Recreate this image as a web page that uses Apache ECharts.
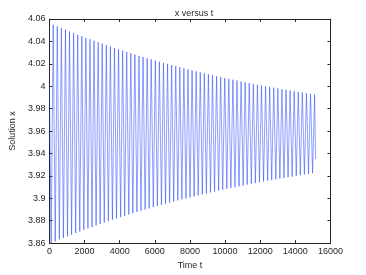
<!DOCTYPE html>
<html>
<head>
<meta charset="utf-8">
<script src="https://cdn.jsdelivr.net/npm/echarts@6/dist/echarts.min.js"></script>
<style>html,body{margin:0;padding:0;background:#fff}#c{width:366px;height:275px}</style>
</head>
<body>
<div id="c"></div>
<script>
// Turning points of the oscillation
var startPoint = [0, 4.00];
var endPoint = [15150, 3.935];
var troughTimes = [99,332,564,797,1029,1262,1494,1727,1959,2192,2424,2657,2889,3122,3354,3587,3819,4052,4284,4517,4749,4982,5214,5447,5679,5912,6144,6377,6609,6842,7074,7307,7539,7772,8004,8237,8469,8702,8934,9167,9399,9632,9864,10097,10329,10562,10794,11027,11259,11492,11724,11957,12189,12422,12654,12887,13119,13352,13584,13817,14049,14282,14514,14747,14979];
var troughValues = [3.8601,3.8616,3.8632,3.8646,3.8661,3.8676,3.8690,3.8704,3.8718,3.8731,3.8744,3.8758,3.8770,3.8783,3.8796,3.8808,3.8820,3.8832,3.8844,3.8855,3.8867,3.8878,3.8889,3.8900,3.8910,3.8921,3.8931,3.8941,3.8951,3.8961,3.8971,3.8981,3.8990,3.8999,3.9008,3.9017,3.9026,3.9035,3.9043,3.9052,3.9060,3.9068,3.9076,3.9084,3.9092,3.9099,3.9107,3.9114,3.9122,3.9129,3.9136,3.9143,3.9150,3.9156,3.9163,3.9169,3.9176,3.9182,3.9188,3.9194,3.9200,3.9206,3.9212,3.9218,3.9224];
var peakTimes = [215,448,680,913,1145,1378,1610,1843,2075,2308,2540,2773,3005,3238,3470,3703,3935,4168,4400,4633,4865,5098,5330,5563,5795,6028,6260,6493,6725,6958,7190,7423,7655,7888,8120,8353,8585,8818,9050,9283,9515,9748,9980,10213,10445,10678,10910,11143,11375,11608,11840,12073,12305,12538,12770,13003,13235,13468,13700,13933,14165,14398,14630,14863,15095];
var peakValues = [4.0549,4.0534,4.0518,4.0504,4.0489,4.0474,4.0460,4.0446,4.0432,4.0419,4.0406,4.0392,4.0380,4.0367,4.0354,4.0342,4.0330,4.0318,4.0306,4.0295,4.0283,4.0272,4.0261,4.0250,4.0240,4.0229,4.0219,4.0209,4.0199,4.0189,4.0179,4.0169,4.0160,4.0151,4.0142,4.0133,4.0124,4.0115,4.0107,4.0098,4.0090,4.0082,4.0074,4.0066,4.0058,4.0051,4.0043,4.0036,4.0028,4.0021,4.0014,4.0007,4.0000,3.9994,3.9987,3.9981,3.9974,3.9968,3.9962,3.9956,3.9950,3.9944,3.9938,3.9932,3.9926];
var xTicks = {min: 0, max: 16000, interval: 2000};
var yTicks = {min: 3.86, max: 4.06, interval: 0.02};

var data = [startPoint];
for (var i = 0; i < peakTimes.length; i++) {
  data.push([troughTimes[i], troughValues[i]]);
  data.push([peakTimes[i], peakValues[i]]);
}
data.push(endPoint);

var FONT = 'Liberation Sans';
var TXT = '#262626';
var AX = '#262626';
function yFmt(v){ return String(parseFloat(v.toFixed(2))); }
function xFmt(v){ return String(Math.round(v)); }
function baseAxis(extra){
  var a = {
    type: 'value',
    axisLine: {show: true, onZero: false, lineStyle: {color: AX, width: 1}},
    axisTick: {show: true, inside: true, length: 3, lineStyle: {color: AX, width: 1}},
    splitLine: {show: false},
    nameTextStyle: {color: TXT, fontFamily: FONT, fontSize: 9}
  };
  for (var k in extra) a[k] = extra[k];
  return a;
}

var chart = echarts.init(document.getElementById('c'), null, {renderer: 'canvas'});
chart.setOption({
  animation: false,
  backgroundColor: '#fff',
  title: {
    text: 'x versus t', left: 189, top: 4, textAlign: 'center',
    textStyle: {color: TXT, fontFamily: FONT, fontSize: 9, fontWeight: 'normal'}
  },
  grid: {left: 48, top: 19, width: 282.5, height: 224.3, containLabel: false},
  xAxis: [
    baseAxis({position: 'bottom', min: xTicks.min, max: xTicks.max, interval: xTicks.interval,
      name: 'Time t', nameLocation: 'middle', nameGap: 16,
      axisLabel: {show: true, color: TXT, fontFamily: FONT, fontSize: 9, margin: 4, formatter: xFmt}}),
    baseAxis({position: 'top', min: xTicks.min, max: xTicks.max, interval: xTicks.interval,
      axisLabel: {show: false}})
  ],
  yAxis: [
    baseAxis({position: 'left', min: yTicks.min, max: yTicks.max, interval: yTicks.interval,
      name: 'Solution x', nameLocation: 'middle', nameGap: 32,
      axisLabel: {show: true, color: TXT, fontFamily: FONT, fontSize: 9, margin: 4, formatter: yFmt}}),
    baseAxis({position: 'right', min: yTicks.min, max: yTicks.max, interval: yTicks.interval,
      axisLabel: {show: false}})
  ],
  series: [{
    type: 'line',
    xAxisIndex: 0, yAxisIndex: 0,
    data: data,
    showSymbol: false,
    symbol: 'none',
    clip: true,
    lineStyle: {color: '#1f3fff', width: 0.5},
    emphasis: {disabled: true}
  }]
});
</script>
</body>
</html>
